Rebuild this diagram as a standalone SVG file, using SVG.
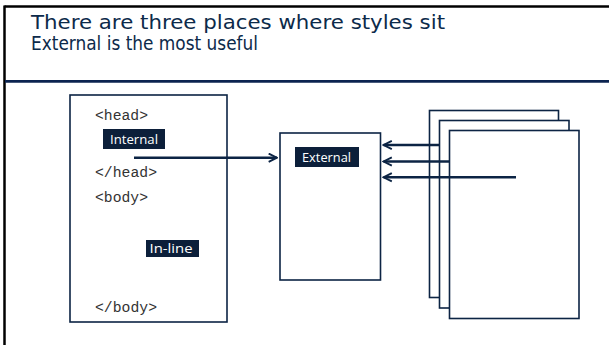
<svg xmlns="http://www.w3.org/2000/svg" width="609" height="345" viewBox="0 0 609 345">
<style>
.title{font-family:"DejaVu Sans","Liberation Sans",sans-serif;font-size:20px;fill:#0c2a4a}
.code{font-family:"Liberation Mono","Courier New",monospace;font-size:14px;fill:#333}
.lbl{font-family:"Open Sans","Liberation Sans",sans-serif;font-size:12.5px;fill:#fff}
.tag{fill:#0c1f3a}
.box{fill:#fff;stroke:#0c2444;stroke-width:1.6}
.conn{stroke:#0c2444;stroke-width:2.6;fill:none}
</style>
<defs>
<marker id="ah" viewBox="0 0 10 10" refX="9" refY="5" markerWidth="4" markerHeight="4" orient="auto" markerUnits="strokeWidth">
<polyline points="1,1 9,5 1,9" fill="none" stroke="#0c2444" stroke-width="1.8"/>
</marker>
</defs>
<rect width="609" height="345" fill="#fff"/>
<line x1="4.5" y1="6.5" x2="609" y2="6.5" stroke="#000" stroke-width="2.5"/>
<line x1="4.5" y1="5.5" x2="4.5" y2="345" stroke="#000" stroke-width="2.5"/>
<line x1="5" y1="81.3" x2="609" y2="81.3" stroke="#0c2450" stroke-width="2.8"/>
<g id="title">
<text class="title" x="31" y="29" textLength="414" lengthAdjust="spacingAndGlyphs">There are three places where styles sit</text>
<text class="title" x="31" y="50" textLength="227" lengthAdjust="spacingAndGlyphs">External is the most useful</text>
</g>
<g id="html-page">
<rect class="box" x="70" y="95" width="157" height="227"/>
<text class="code" x="95" y="120" textLength="53" lengthAdjust="spacingAndGlyphs">&lt;head&gt;</text>
<text class="code" x="95" y="177" textLength="62" lengthAdjust="spacingAndGlyphs">&lt;/head&gt;</text>
<text class="code" x="95" y="202" textLength="53" lengthAdjust="spacingAndGlyphs">&lt;body&gt;</text>
<text class="code" x="95" y="312" textLength="62" lengthAdjust="spacingAndGlyphs">&lt;/body&gt;</text>
</g>
<g id="internal">
<rect class="tag" x="103" y="129" width="62" height="20"/>
<text class="lbl" x="110" y="143.5" textLength="48" lengthAdjust="spacingAndGlyphs">Internal</text>
</g>
<g id="inline">
<rect class="tag" x="146" y="240" width="53" height="17"/>
<text class="lbl" x="149.5" y="253" textLength="43" lengthAdjust="spacingAndGlyphs">In-line</text>
</g>
<g id="external">
<rect class="box" x="280" y="133" width="100.5" height="147"/>
<rect class="tag" x="295" y="147" width="64" height="20"/>
<text class="lbl" x="302" y="161.5" textLength="49" lengthAdjust="spacingAndGlyphs">External</text>
</g>
<g id="pages">
<rect class="box" x="429.5" y="110.5" width="129" height="187"/>
<rect class="box" x="439.5" y="120.5" width="129.5" height="187.5"/>
<rect class="box" x="449.5" y="130.5" width="129.5" height="188"/>
</g>
<g id="connectors">
<line class="conn" x1="134" y1="157.7" x2="277" y2="157.7" marker-end="url(#ah)"/>
<line class="conn" x1="439" y1="145" x2="383.5" y2="145" marker-end="url(#ah)"/>
<line class="conn" x1="449.5" y1="161.5" x2="383.5" y2="161.5" marker-end="url(#ah)"/>
<line class="conn" x1="516" y1="177.3" x2="383.5" y2="177.3" marker-end="url(#ah)"/>
</g>
</svg>
